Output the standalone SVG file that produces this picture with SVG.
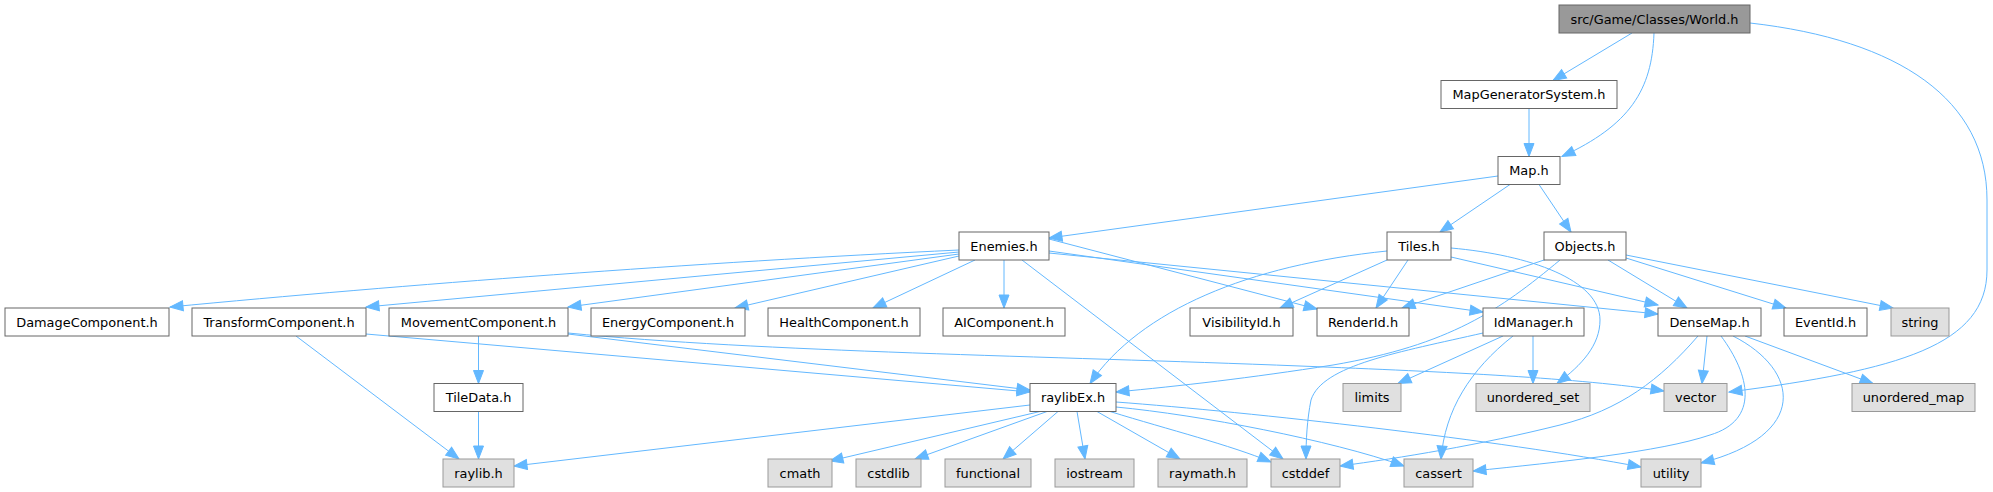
<svg xmlns="http://www.w3.org/2000/svg" width="1993" height="492" viewBox="0 0 1993 492">
<style>
rect{stroke-width:1}
.w{fill:#ffffff;stroke:#666666}
.g{fill:#e0e0e0;stroke:#999999}
.r{fill:#999999;stroke:#666666}
text{font-family:"DejaVu Sans",Verdana,sans-serif;font-size:12.9px;fill:#000000;text-anchor:middle}
#edges path{fill:none;stroke:#63b8ff;stroke-width:1;marker-end:url(#ah)}
</style>
<defs>
<marker id="ah" markerUnits="userSpaceOnUse" markerWidth="16" markerHeight="13" refX="13" refY="5.5" orient="auto" overflow="visible">
<path d="M0,0.5 L13,5.5 L0,10.5 z" fill="#63b8ff" stroke="#63b8ff" stroke-width="1"/>
</marker>
</defs>
<rect width="1993" height="492" fill="#ffffff"/>
<g id="edges">
<path d="M1632,33 L1553,80.5"/>
<path d="M1654,33 C1652,90 1630,125 1562,156.5"/>
<path d="M1750,23 C1900,40 1987,100 1987,200 L1987,270 C1987,345 1900,370 1729,392"/>
<path d="M1529,108.5 L1529,156.5"/>
<path d="M1498,176 L1049,238"/>
<path d="M1510,184.5 L1440,232"/>
<path d="M1539,184.5 L1571,232"/>
<path d="M959,250 C700,262 400,285 170,307"/>
<path d="M959,252 L366,307"/>
<path d="M959,254 L568,307"/>
<path d="M959,256 L735,308"/>
<path d="M975,260 L873,308"/>
<path d="M1004,260 L1004,308"/>
<path d="M1022,260 L1283,459"/>
<path d="M1049,239 L1317,309"/>
<path d="M1049,251 L1483,312"/>
<path d="M1049,253 L1658,314"/>
<path d="M1451,257 L1658,305"/>
<path d="M1387,260 L1280,308"/>
<path d="M1387,251 C1250,265 1140,310 1090,383.5"/>
<path d="M1408,260 L1376,308"/>
<path d="M1451,248 C1530,255 1600,280 1600,320 C1600,345 1582,365 1557,383.5"/>
<path d="M1547,259 L1402,308"/>
<path d="M1560,260 C1500,310 1450,345 1333,365 C1250,378 1180,386 1116,392"/>
<path d="M1608,260 L1687,308"/>
<path d="M1626,258 L1786,308"/>
<path d="M1626,255 L1893,308"/>
<path d="M478.5,336 L478.5,383.5"/>
<path d="M478.5,411.5 L478.5,459"/>
<path d="M296,336 L459,459"/>
<path d="M366,334 L1030,392"/>
<path d="M568,334 L1030,390"/>
<path d="M568,333 C760,352 1050,356 1300,366 C1450,372 1580,378 1664,391"/>
<path d="M1503,336 L1398,383.5"/>
<path d="M1533,336 L1533,383.5"/>
<path d="M1513,336 C1470,370 1445,410 1441,459"/>
<path d="M1483,333 C1400,352 1322,365 1311,400 C1307,420 1306,440 1306,459"/>
<path d="M1707,336 L1702,383.5"/>
<path d="M1745,336 L1873,383.5"/>
<path d="M1733,336 C1800,370 1810,435 1701,463"/>
<path d="M1721,336 C1750,375 1760,420 1710,435 C1660,452 1560,462 1473,471"/>
<path d="M1698,336 C1660,380 1620,410 1560,425 C1480,445 1400,458 1340,466"/>
<path d="M1030,405 L514,466"/>
<path d="M1040,411.5 L830,461"/>
<path d="M1047,411.5 L915,459"/>
<path d="M1058,411.5 L1003,459"/>
<path d="M1077,411.5 L1085,459"/>
<path d="M1097,411.5 L1180,459"/>
<path d="M1110,411.5 C1170,430 1230,445 1271,462"/>
<path d="M1116,407 C1200,415 1330,440 1404,466"/>
<path d="M1116,402 C1250,412 1500,440 1641,467"/>
</g>
<g id="n_world"><rect class="r" x="1559" y="5" width="191" height="28"/><text x="1654.5" y="23.5">src/Game/Classes/World.h</text></g>
<g id="n_mapgen"><rect class="w" x="1441" y="80.5" width="176" height="28"/><text x="1529" y="99">MapGeneratorSystem.h</text></g>
<g id="n_map"><rect class="w" x="1498" y="156.5" width="62" height="28"/><text x="1529" y="175">Map.h</text></g>
<g id="n_enemies"><rect class="w" x="959" y="232" width="90" height="28"/><text x="1004" y="250.5">Enemies.h</text></g>
<g id="n_tiles"><rect class="w" x="1387" y="232" width="64" height="28"/><text x="1419" y="250.5">Tiles.h</text></g>
<g id="n_objects"><rect class="w" x="1544" y="232" width="82" height="28"/><text x="1585" y="250.5">Objects.h</text></g>
<g id="n_damage"><rect class="w" x="5" y="308" width="164" height="28"/><text x="87" y="326.5">DamageComponent.h</text></g>
<g id="n_transform"><rect class="w" x="192" y="308" width="174" height="28"/><text x="279" y="326.5">TransformComponent.h</text></g>
<g id="n_movement"><rect class="w" x="389" y="308" width="179" height="28"/><text x="478.5" y="326.5">MovementComponent.h</text></g>
<g id="n_energy"><rect class="w" x="591" y="308" width="154" height="28"/><text x="668" y="326.5">EnergyComponent.h</text></g>
<g id="n_health"><rect class="w" x="768" y="308" width="152" height="28"/><text x="844" y="326.5">HealthComponent.h</text></g>
<g id="n_ai"><rect class="w" x="943" y="308" width="122" height="28"/><text x="1004" y="326.5">AIComponent.h</text></g>
<g id="n_visibility"><rect class="w" x="1190" y="308" width="103" height="28"/><text x="1241.5" y="326.5">VisibilityId.h</text></g>
<g id="n_renderid"><rect class="w" x="1317" y="308" width="92" height="28"/><text x="1363" y="326.5">RenderId.h</text></g>
<g id="n_idmanager"><rect class="w" x="1483" y="308" width="101" height="28"/><text x="1533.5" y="326.5">IdManager.h</text></g>
<g id="n_densemap"><rect class="w" x="1658" y="308" width="103" height="28"/><text x="1709.5" y="326.5">DenseMap.h</text></g>
<g id="n_eventid"><rect class="w" x="1784" y="308" width="83" height="28"/><text x="1825.5" y="326.5">EventId.h</text></g>
<g id="n_string"><rect class="g" x="1891" y="308" width="58" height="28"/><text x="1920" y="326.5">string</text></g>
<g id="n_tiledata"><rect class="w" x="434" y="383.5" width="89" height="28"/><text x="478.5" y="402">TileData.h</text></g>
<g id="n_raylibex"><rect class="w" x="1030" y="383.5" width="86" height="28"/><text x="1073" y="402">raylibEx.h</text></g>
<g id="n_limits"><rect class="g" x="1343" y="383.5" width="58" height="28"/><text x="1372" y="402">limits</text></g>
<g id="n_uset"><rect class="g" x="1476" y="383.5" width="114" height="28"/><text x="1533" y="402">unordered_set</text></g>
<g id="n_vector"><rect class="g" x="1664" y="383.5" width="63" height="28"/><text x="1695.5" y="402">vector</text></g>
<g id="n_umap"><rect class="g" x="1852" y="383.5" width="123" height="28"/><text x="1913.5" y="402">unordered_map</text></g>
<g id="n_raylib"><rect class="g" x="443" y="459" width="71" height="28"/><text x="478.5" y="477.5">raylib.h</text></g>
<g id="n_cmath"><rect class="g" x="768" y="459" width="64" height="28"/><text x="800" y="477.5">cmath</text></g>
<g id="n_cstdlib"><rect class="g" x="856" y="459" width="65" height="28"/><text x="888.5" y="477.5">cstdlib</text></g>
<g id="n_functional"><rect class="g" x="945" y="459" width="86" height="28"/><text x="988" y="477.5">functional</text></g>
<g id="n_iostream"><rect class="g" x="1055" y="459" width="79" height="28"/><text x="1094.5" y="477.5">iostream</text></g>
<g id="n_raymath"><rect class="g" x="1158" y="459" width="89" height="28"/><text x="1202.5" y="477.5">raymath.h</text></g>
<g id="n_cstddef"><rect class="g" x="1271" y="459" width="69" height="28"/><text x="1305.5" y="477.5">cstddef</text></g>
<g id="n_cassert"><rect class="g" x="1404" y="459" width="69" height="28"/><text x="1438.5" y="477.5">cassert</text></g>
<g id="n_utility"><rect class="g" x="1641" y="459" width="60" height="28"/><text x="1671" y="477.5">utility</text></g>
</svg>
